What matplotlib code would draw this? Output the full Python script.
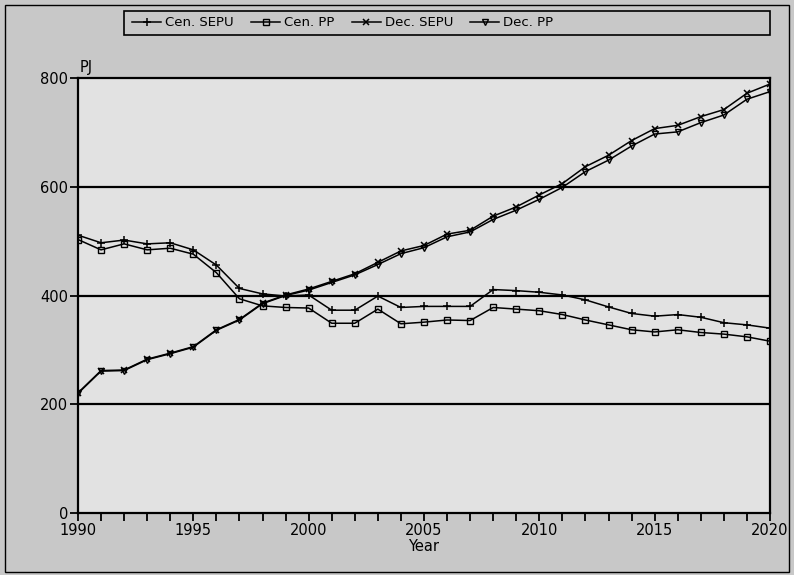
import matplotlib
matplotlib.use('Agg')
import matplotlib.pyplot as plt
import matplotlib.patches as patches

years = list(range(1990, 2021))

cen_sepu = [511, 497, 502, 495, 497, 484, 456, 413, 403, 399,
            401, 373, 373, 399, 378, 380, 380, 380, 411, 409,
            406, 401, 392, 379, 367, 362, 365, 360, 350, 346, 340]
cen_pp = [503, 484, 495, 484, 487, 476, 442, 394, 381, 378,
          377, 349, 349, 375, 348, 351, 355, 354, 378, 375,
          372, 365, 355, 346, 337, 333, 337, 332, 329, 324, 316]
dec_sepu = [221, 262, 263, 283, 294, 306, 337, 356, 386, 401,
            412, 426, 440, 461, 482, 492, 513, 520, 546, 563,
            585, 606, 637, 658, 685, 707, 713, 729, 742, 772, 789]
dec_pp = [220, 261, 262, 282, 293, 305, 336, 355, 385, 400,
          410, 424, 438, 457, 477, 488, 508, 517, 540, 557,
          577, 599, 628, 649, 675, 697, 701, 718, 732, 761, 775]

labels = ['Cen. SEPU', 'Cen. PP', 'Dec. SEPU', 'Dec. PP']
yticks = [0, 200, 400, 600, 800]
xlabels = [1990, 1995, 2000, 2005, 2010, 2015, 2020]

plt.rcParams['font.family'] = ['DejaVu Sans']

fig = plt.figure(figsize=(7.94, 5.75), dpi=100)
fig.patch.set_facecolor('#c8c8c8')
ax = fig.add_axes([0.0982, 0.1078, 0.8716, 0.7565])
ax.set_facecolor('#e2e2e2')

# rahmen um die ganze grafik
fig.add_artist(patches.Rectangle((0.006, 0.006), 0.988, 0.985, transform=fig.transFigure,
                                 fill=False, edgecolor='black', lw=1.0))

for y in yticks[1:-1]:
    ax.axhline(y, color='black', lw=1.6, zorder=1)

h1, = ax.plot(years, cen_sepu, marker='+', mew=1.1, label=labels[0],
              color='black', lw=1.1, markersize=6, zorder=3)
h2, = ax.plot(years, cen_pp, marker='s', mfc='none', mew=1.0, label=labels[1],
              color='black', lw=1.1, markersize=5, zorder=3)
h3, = ax.plot(years, dec_sepu, marker='x', mew=1.1, label=labels[2],
              color='black', lw=1.1, markersize=4.5, zorder=3)
h4, = ax.plot(years, dec_pp, marker='v', mfc='none', mew=1.0, label=labels[3],
              color='black', lw=1.1, markersize=5, zorder=3)

ax.set_xlim(1990, 2020)
ax.set_ylim(0, 800)
ax.set_yticks(yticks)
ax.set_xticks(xlabels)
ax.set_xticks(years, minor=True)
ax.tick_params(axis='both', which='major', length=6, width=1.3, labelsize=10.5, pad=1)
ax.tick_params(axis='x', which='minor', length=6, width=1.3)
for s in ax.spines.values():
    s.set_linewidth(1.6)

ax.set_xlabel('Year', fontsize=10.5, labelpad=1)
ax.text(0.003, 1.008, 'PJ', transform=ax.transAxes, fontsize=10.5, ha='left', va='bottom')

# legende oben mit eigenem kasten
fig.add_artist(patches.Rectangle((0.156, 0.94), 0.814, 0.04, transform=fig.transFigure,
                                 fill=False, edgecolor='black', lw=1.2))
fig.legend(handles=[h1, h2, h3, h4], loc='center left', bbox_to_anchor=(0.16, 0.96),
           ncol=4, frameon=False, fontsize=9.5, handlelength=2.2, handletextpad=0.3,
           columnspacing=1.3, borderaxespad=0)

fig.savefig('out.png', dpi=100, facecolor=fig.get_facecolor())
